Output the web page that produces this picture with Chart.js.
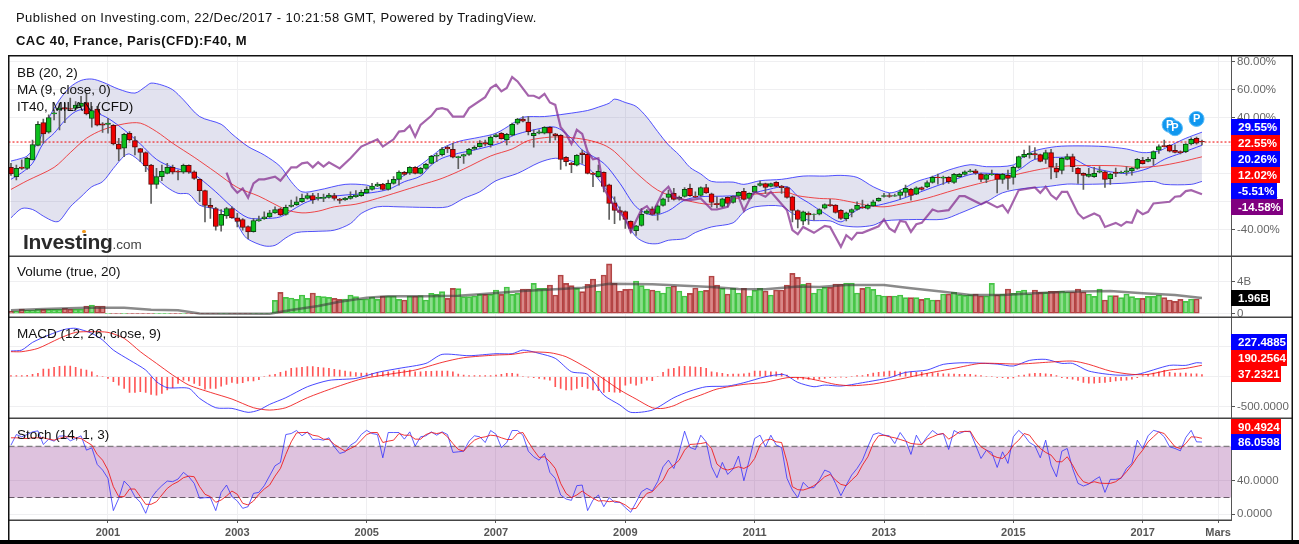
<!DOCTYPE html>
<html><head><meta charset="utf-8"><title>CAC 40</title>
<script src="https://cdn.jsdelivr.net/npm/chart.js@4"></script>
<style>
html,body{margin:0;padding:0;background:#fff;overflow:hidden}
#wrap{position:relative;width:1299px;height:544px;font-family:"Liberation Sans",Arial,sans-serif;color:#111}
canvas{position:absolute;left:0;top:0}
.t{position:absolute;white-space:nowrap;line-height:16px;font-size:13.5px}
.p{position:absolute;left:1231px;height:16px;line-height:16px;color:#fff;font-weight:bold;font-size:11.5px;padding-left:7px;box-sizing:border-box;white-space:nowrap}
</style></head><body><div id="wrap"><canvas id="c" width="1299" height="544"></canvas></div>
<script>
// Monthly candles, Jul 1999 to Dec 2017, in percent
const open=[4.5,-2.1,4.8,3.8,9.8,20.2,36.4,29.5,42.6,45.5,
47.1,46.4,46.4,47.9,50.7,39.3,46,35.5,35,34.5,
21,18.1,28.8,23.6,17.9,15,6.2,-7.6,-2.1,0.2,
4.5,1.9,1,6,1.4,-4,-12.1,-22.6,-24.8,-36.9,
-30,-24.8,-31.4,-32.6,-37.6,-41.2,-33.6,-32.1,-30.7,-27.9,
-25,-29,-23.3,-22.1,-20,-17.6,-15.5,-17.6,-17.6,-16.9,
-15.5,-18.1,-18.6,-17.6,-16.4,-15.7,-13.6,-11.2,-8.8,-7.4,
-11.2,-6.9,-4,1,0,4.5,0.2,3.8,7.4,12.4,
13.6,18.8,17.4,11.4,12.4,13.8,17.4,19.3,22.1,20.7,
26.4,28.8,24.3,27.4,36,38.8,36.7,27.1,28.8,28.8,
33.1,28.3,27.4,11.7,7.6,6,14.8,13.8,0.5,-2.1,
1,-7.9,-20.7,-26.2,-26.9,-34,-40.5,-36.9,-28.3,-25,
-28.3,-22.6,-16.9,-14,-18.1,-16.2,-10.5,-16,-15.5,-9.8,
-14.3,-21.2,-23.3,-16.9,-20.5,-16,-12.6,-17.6,-13.1,-8.3,
-7.1,-9,-6.2,-8.8,-9.8,-16.4,-26.2,-33.8,-28.3,-29,
-28.8,-24.5,-21.9,-22.4,-26,-32.1,-27.6,-25.5,-23.6,-24.8,
-22.9,-19.3,-16.2,-15.5,-16,-15.5,-13.3,-11.2,-14.5,-9.8,
-9.5,-6.2,-2.4,-3.1,-2.6,-6.2,-2.1,-0.5,1.4,2.1,
0,-4,-0.7,-0.5,-4,-1.2,-2.6,4.5,11.9,13.6,
14.3,13.6,10.2,15,3.8,2.4,10.2,12.1,3.8,0.2,
-1.9,-2.1,1,1.4,-3.6,1.2,0.5,1,1.9,3.8,
9.5,8.8,10.7,16.7,20,20.2,16.7,15.7,15.7,21.2,
25.2,23];
const close=[-0.2,3.8,3.8,11,20.7,35.2,28.3,40,43.3,46.7,
46,46,48.8,50.2,42.6,45,34.5,34.5,36,21.2,
17.4,28.1,24,18.8,15.2,5.7,-7.6,-2.1,1.7,4.5,
1,1,6,1,-3.3,-12.1,-22.6,-24,-37.6,-29,
-24.8,-31.4,-34,-38.3,-41.4,-33.3,-32.6,-30.7,-27.9,-25.5,
-29.3,-24,-22.4,-20,-17.6,-15.5,-18.6,-16.9,-16.9,-15.2,
-17.6,-19,-17.4,-16.2,-15.2,-13.3,-11.2,-8.8,-7.4,-11.2,
-6.9,-4,1.2,-0.5,4.5,0.2,3.8,6.7,12.4,13.1,
17.6,17.6,11.7,12.1,13.6,17.4,18.8,21.7,21,26,
27.6,25,28.1,35.2,38.8,37.4,30,28.8,29.8,33.1,
28.8,27.1,10.2,8.6,6.4,13.1,13.6,0.2,-0.5,1.7,
-9,-21.2,-26.2,-27.6,-32.6,-39,-37.1,-29,-26.4,-29,
-22.9,-17.9,-14.3,-18.3,-16.9,-11.2,-15.7,-16.7,-9.8,-13.6,
-20.5,-22.1,-17.9,-21.2,-16.2,-13.3,-18.3,-14,-9,-7.1,
-9.8,-7.1,-9,-10,-16.9,-26.2,-32.6,-27.1,-29.3,-28.8,
-25.5,-21.9,-22.9,-27.6,-31.9,-27.9,-25.5,-22.6,-24.3,-22.6,
-20,-17.6,-15.5,-16.2,-15.5,-12.9,-10.5,-15.5,-10,-11.2,
-6.4,-2.6,-2.9,-2.4,-5.7,-0.5,-0.5,1.4,2.1,0,
-4,-0.7,0,-4,-0.5,-3.3,4.5,12.1,13.8,14.5,
13.3,8.8,15,4.8,1,11,12.1,5,-0.2,-1.2,
-0.2,0.2,2.1,-4,0,0.2,0.9,2.1,3.8,10.2,
7.1,10.2,15.7,19.3,19.3,16,15.2,15,21,24.5,
21.7,22.55];
const high=[7.4,6.2,9.8,11.7,24,37.1,38.8,41.9,45.5,50.2,
50.2,53.8,51.4,55,57.4,47.9,47.9,36.4,39.5,35,
25.2,28.8,30,26.4,18.1,15.5,6.7,3.8,6.2,7.4,
6.2,2.6,6.9,6.4,2.1,-3.6,-11.7,-17.6,-24,-25.5,
-24,-23.6,-28.3,-31.9,-37.1,-31.9,-30.2,-27.1,-26,-23.6,
-24.5,-22.4,-18.8,-16.4,-14.5,-14,-14,-14,-14.5,-14,
-14,-17.6,-16.9,-12.9,-12.1,-11.7,-9.3,-6.9,-6.4,-6.9,
-4.5,-2.1,2.1,1.7,5,5,4.5,7.4,13.1,14.5,
18.8,19.8,21.7,12.6,14,18.1,19.8,23.6,24,26.9,
28.3,29.3,28.8,36,39.5,40.7,40.7,31.2,31.2,33.6,
33.6,28.8,27.9,12.1,8.1,13.6,16.9,14.5,1,6.2,
1.4,-7.4,-16.4,-23.6,-26.4,-33.6,-36.7,-24.8,-25.5,-23.6,
-22.1,-17.4,-11.7,-10.5,-16,-9.8,-7.4,-12.9,-9.3,-7.6,
-13.8,-16.4,-17.4,-16.4,-15.7,-12.9,-10.5,-13.6,-8.6,-5.2,
-6.7,-6.7,-5.7,-8.3,-9.3,-16,-25.7,-26.7,-27.1,-28.6,
-25,-21.4,-18.3,-21.9,-25.5,-27.4,-25,-20,-18.8,-21.7,
-18.8,-17.1,-14,-14,-14.5,-11.7,-8.1,-10.5,-9.3,-9.3,
-5,-1.7,-0.2,-1.7,-2.1,0.2,0.2,2.1,3.1,3.1,
0.5,-0.2,2.6,0,0.2,2.6,5.5,12.6,16.9,19.8,
18.6,14,16.9,17.4,7.4,11.7,14,14,4.3,0.7,
3.8,4.5,5,1.9,0.5,4,1.9,5,4.5,10.7,
11.7,11.7,16.2,20.5,24,20.7,20.5,16.2,21.4,25.5,
26,24];
const low=[-1.2,-4.5,3.1,3.1,9.8,19.8,21.7,28.8,38.3,31.2,
36.4,45,45.5,47.4,41.9,33.1,34,29.3,28.8,20.5,
9.3,12.1,23.6,13.3,8.6,1.4,-21.2,-10.5,-5,-0.2,
-0.2,-4.5,0.2,0.2,-4,-20,-34.3,-31.9,-40.2,-41,
-31.9,-31.9,-37.9,-40.2,-46.2,-41.7,-34,-32.6,-31.2,-28.3,
-29.8,-29.5,-23.8,-22.6,-20.5,-18.1,-21.2,-18.8,-20,-17.4,
-18.8,-21.2,-19,-18.1,-16.9,-16.2,-14,-11.7,-9.3,-11.7,
-11.7,-7.4,-8.1,-1.2,-0.5,-0.2,-0.2,3.1,6.9,8.6,
12.6,15,11.2,3.6,7.4,13.1,16.9,18.8,19.8,18.8,
26,24.5,20.5,26.9,35,36.9,27.6,18.8,28.3,28.3,
22.1,24,3.1,5.5,0.7,5.5,7.4,-0.2,-9.3,-2.6,
-12.9,-32.6,-35.5,-33.1,-39,-42.1,-44,-37.4,-28.8,-29.5,
-33.1,-23.1,-20,-18.8,-18.8,-16.7,-16.2,-17.1,-16,-14,
-23.6,-24.3,-24,-23.6,-21,-16.4,-18.8,-18.1,-13.6,-8.8,
-14,-9.5,-9.5,-14,-17.4,-34.3,-38.6,-36.4,-36.2,-33.1,
-29.3,-25,-23.3,-28.1,-32.6,-33.6,-30.7,-26,-24.8,-25.2,
-23.3,-19.8,-16.7,-16.9,-16.2,-18.3,-16.4,-18.8,-15,-11.7,
-10,-6.7,-7.4,-7.6,-6.9,-6.9,-2.6,-1,1,-0.5,
-5.7,-6.4,-1.2,-13.6,-6.9,-11.2,-7.4,4,11.4,11,
10.5,8.3,7.4,-3.8,-2.9,-0.2,9.8,1.4,-6.9,-11.2,
-2.4,-2.6,0.5,-9.8,-7.6,-2.1,0,-1,-1,3.3,
6.7,8.3,6.2,14.5,18.8,15.5,14.8,14,15,20.5,
21,20.5];

// Bollinger upper band: month index and percent
const bbUpperMonths=[0,2,3,5,7,9,11,13,15,17,20,23,25,26,28,30,32,35,39,41,44,47,50,52,54,57,62,66,68,71,74,76,78,80,83,87,90,93,95,99,103,107,109,111,112,114,116,118,120,122,124,126,128,130,134,136,139,143,147,151,154,157,160,163,165,168,171,174,178,181,186,188,190,194,198,203,207,210,213,215,218,221];
const bbUpper=[9,11,12.6,22.1,39.5,52.6,61.7,66.4,67.4,65.2,60.2,57.4,62.1,64.5,63.1,59.8,52.6,40.7,35.2,28.3,19.3,13.3,5,-5.7,-12.9,-11.7,-7.6,-8.1,-10.5,-5.7,1.4,6.2,12.1,18.1,22.9,26,28.8,35.5,40.2,40.7,42.6,45,47.4,50.2,53.1,50.7,47.9,40.2,30,20.5,13.3,4.5,-0.2,-5.5,-6,-7.6,-5,-4,-1.7,-1.7,-1.2,-2.6,-9.3,-13.6,-11.7,-5.7,-2.1,2.6,6.4,5,6.2,12.6,16.4,19.3,19.8,19.3,17.6,15,16.2,19.8,25.2,29.55];
// Bollinger lower band
const bbLowerMonths=[0,2,4,6,8,9,11,13,15,17,19,21,22,24,27,29,31,33,35,38,41,43,44,47,49,51,53,57,60,63,65,68,72,77,81,84,87,90,94,98,101,104,107,110,112,114,116,118,120,122,125,127,130,134,136,138,143,145,148,152,154,157,160,162,168,173,176,181,184,188,192,196,199,206,212,214,219,221];
const bbLower=[-31.4,-24.8,-25.5,-30.2,-34,-33.6,-23.6,-16.4,-9.3,-5.7,3.8,12.6,14,8.6,-3.3,-9.8,-14,-14.5,-22.4,-25.2,-30,-42.6,-46.7,-51.4,-51,-45.7,-41.9,-41,-40.2,-35.5,-28.3,-23.6,-23.6,-24,-23.6,-17.6,-12.9,-5,0.2,7.9,11,9,4.5,-8.8,-18.8,-33.1,-45,-49.3,-49.8,-47.4,-46.2,-41.9,-37.9,-35,-27.1,-23.6,-23.1,-28.3,-33.1,-33.6,-36.7,-37.9,-36.7,-33.6,-32.6,-32.4,-28.3,-20,-13.6,-10.5,-9.3,-7.4,-7.6,-6.9,-5.5,-7.6,-7.6,-5.51];
// Bollinger basis
const bbBasisMonths=[0,3,8,11,14,17,21,24,27,30,34,38,42,46,51,54,57,60,64,68,72,76,80,84,89,93,96,100,103,107,110,112,116,120,124,129,132,137,141,144,146,150,153,156,159,162,165,170,175,181,185,188,192,196,205,209,213,217,221];
const bbBasis=[-11.2,-5,4.5,15,25.2,31.2,35.5,36,30,21.7,11.7,1,-9.8,-16,-25.5,-27.9,-26.7,-23.6,-21.7,-17.6,-12.9,-8.1,-3.3,3.3,12.6,17.6,23.6,26,26,24,20.5,15.7,0.7,-11.7,-17.6,-21.7,-20.7,-15.2,-13.6,-13.3,-15.7,-17.6,-18.1,-20.2,-22.6,-23.6,-21.7,-17.4,-11.7,-5.7,-2.1,0.7,3.8,5.5,5.7,4.5,5.5,8.3,12.02];
// MA(9)
const ma9Months=[0,2,4,6,8,10,12,14,16,18,21,24,27,30,33,35,38,41,44,47,50,53,55,58,62,66,70,73,76,78,80,83,86,91,93,97,101,104,106,110,113,116,119,122,125,128,132,136,140,144,146,148,151,154,156,158,161,165,170,174,179,185,187,190,195,197,200,204,207,211,214,217,221];
const ma9=[-4,0.7,7.4,21.7,28.8,37.9,44.3,46,43.1,39.5,31.2,21.2,10.2,4.5,1.4,-3.3,-12.9,-23.6,-31.4,-31.9,-30.7,-24,-20,-16.9,-15.2,-14,-11.2,-5.7,-1.7,6.2,11,14.5,16.9,22.1,26.9,31.2,33.1,25.2,16.9,7.4,-6.9,-23.6,-29.5,-26.4,-18.8,-16.4,-16,-15.2,-11.7,-9.3,-16,-20.7,-28.3,-34.3,-28.3,-24,-22.4,-18.3,-11.2,-5.7,0.2,-0.2,2.6,10.2,11.7,11,5,1.4,0.2,3.8,10.2,14.5,20.26];
// IT40 comparison line
const it40Months=[40,41,42,43,44,45,46,47,49,50,52,53,54,55,56,57,58,59,61,63,65,68,69,71,72,73,74,75,76,78,79,80,81,82,84,85,88,89,90,91,92,93,94,96,97,98,99,100,101,102,103,104,105,106,107,108,109,110,112,114,115,117,118,119,121,122,123,125,126,128,130,131,133,134,135,136,137,138,140,141,144,145,146,147,149,151,152,154,155,156,157,158,161,162,163,164,165,166,167,168,169,171,172,174,176,177,180,181,183,184,185,187,190,191,192,193,194,195,196,198,199,201,202,203,205,206,207,208,209,210,211,212,215,216,217,218,219,221];
const it40=[0.7,-9.3,-13.6,-10.5,-17.1,-6.9,-4,-4,-2.1,-5,4.5,4.5,7.4,8.1,4.5,8.1,5,8.1,3.8,11,19.3,24.5,19.3,24.5,30,30.5,34.3,26.4,34.8,41.2,46,46.7,45.5,40.7,40.7,46.7,54.5,61,63.3,58.6,61,68.8,65.7,55.5,55.5,53.8,56.9,50.7,49,33.1,28.3,21.2,31.2,28.3,15.7,10.2,11,-10.5,-23.6,-31.9,-41.4,-25.5,-23.1,-28.3,-12.9,-9.3,-16.4,-18.8,-18.8,-17.6,-25.5,-25.5,-23.6,-16.4,-16.4,-26.4,-18.8,-12.9,-16.4,-12.9,-26,-40.2,-43.1,-37.9,-42.1,-37.1,-37.9,-52.1,-43.8,-46.9,-42.1,-42.1,-37.4,-32.6,-39,-41.4,-33.6,-34.3,-41.4,-36,-35,-25.5,-26.9,-26,-16,-16,-21.7,-20,-24,-22.4,-27.6,-11.7,-9.8,-13.6,-9.3,-15.2,-18.1,-12.9,-12.9,-28.3,-31.9,-28.3,-30.2,-37.9,-35,-37.1,-34.3,-35,-26,-28.8,-27.1,-21.2,-20,-16.4,-16,-12.4,-11.7,-14.58];
const lastPrice=22.55;
const pMarkerMonths=[215,216,220];
const pMarkerValues=[34.8,32.4,39];

// Volume in billions
const volume=[.33,.33,.58,.46,.46,.54,.54,.54,.54,.54,
.67,.58,.58,.58,.96,1.08,.96,.96,.03,.03,
.03,.03,.03,.03,.03,.03,.03,.03,.03,.03,
.03,.03,.03,.03,.03,.03,.03,.03,.03,.03,
.03,.03,.03,.03,.03,.03,.03,.03,.03,1.67,
2.67,2.04,1.96,1.79,2.33,1.92,2.58,2.21,2.13,2.04,
1.92,1.79,1.83,2.33,2.13,1.83,1.83,2.08,1.79,2.21,
2.21,2.21,1.79,1.71,2.21,2.21,2.25,1.71,2.54,2.42,
2.75,1.92,3.17,3.13,2.13,2.13,2.21,2.42,2.42,2.42,
2.96,2.42,3.33,2.42,2.54,3.08,3.08,3.79,3.17,3.17,
3.58,2.33,4.83,3.79,3.5,3.17,2.75,3.67,4.33,2.83,
4.83,6.21,3.79,2.83,3.04,3.08,4.08,3.5,3.08,2.96,
2.83,2.58,3.33,3.46,2.83,2.21,2.54,3.21,2.83,2.92,
4.71,3.58,3.17,2.46,3.17,2.58,3.17,2.21,2.92,3.17,
2.83,2.33,2.96,2.96,3.58,5.04,4.54,3.67,3.83,2.58,
3.08,3.29,3.29,3.71,3.71,3.83,3.83,2.58,3.17,3.33,
3.04,2.33,2.21,2.21,2.21,2.33,2,2,2,1.79,
1.92,1.71,1.71,2.46,2.46,2.67,2.38,2.29,2.38,2.46,
2.21,2.21,3.79,2.38,2.46,3.08,2.54,2.83,2.96,2.46,
2.96,2.67,2.67,2.79,2.79,2.83,2.71,2.71,3.08,2.71,
2.46,2.17,3.08,1.71,2.25,2.25,2,2.46,2.13,1.92,
1.92,2.17,2.17,2.33,2,1.71,1.54,1.79,1.54,1.83,
1.83];
const volMaMonths=[0,6,14,21,26,31,35,48,52,57,61,66,70,77,83,87,95,101,106,111,119,125,130,135,140,146,150,155,162,167,173,178,184,190,196,204,210,216,221];
const volMa=[.42,.58,.75,.75,.5,.42,.04,0,.46,.96,1.5,2,2.17,2.17,2.25,2.42,2.83,3.04,3.25,3.75,3.67,3.5,3.33,3.08,3.04,3.38,3.33,3.58,3.58,3.17,2.75,2.33,2.33,2.54,2.75,2.83,2.54,2.33,1.96];

// MACD
const macdMonths=[0,2,4,7,10,12,15,17,19,22,25,27,29,33,35,38,41,44,46,48,51,55,59,64,68,72,77,80,85,90,93,95,98,101,104,107,110,113,115,119,123,126,129,133,136,140,143,144,146,149,151,154,158,163,166,170,173,177,183,186,189,192,195,197,200,205,209,215,218,220,221];
const macd=[428,444,572,694,789,806,722,611,444,278,111,-83,-183,-194,-361,-517,-528,-594,-556,-461,-350,-167,-61,-28,72,139,222,372,350,383,383,444,389,306,83,39,-306,-472,-594,-556,-350,-239,-167,-156,-100,0,39,17,-94,-167,-139,-156,-100,-17,72,111,206,233,211,178,272,289,222,222,94,28,39,189,189,233,227.49];
const signalMonths=[0,2,5,9,12,15,18,21,24,27,30,33,37,41,45,48,51,55,60,65,70,75,80,84,90,93,96,100,103,107,110,113,116,119,121,123,125,128,131,136,140,144,147,150,153,156,160,165,170,175,180,187,192,197,200,204,208,211,215,218,221];
const signal=[417,417,472,639,739,750,739,639,417,222,28,-139,-261,-372,-517,-556,-517,-350,-183,-39,39,111,239,317,361,372,411,400,333,139,-39,-222,-372,-517,-528,-483,-400,-306,-206,-128,-94,-17,-17,-67,-128,-150,-122,-39,56,139,222,211,239,261,206,94,39,39,111,139,190.26];
const macdHist=[17,17,17,22,39,56,128,128,156,172,
178,178,156,128,111,83,17,0,-28,-83,
-139,-194,-261,-261,-250,-261,-294,-306,-278,-222,
-183,-111,-56,-72,-111,-150,-206,-194,-194,-156,
-128,-94,-111,-100,-72,-72,-50,0,28,39,
72,94,139,150,156,167,167,156,150,139,
122,111,94,83,67,61,61,56,72,83,
83,94,111,111,111,83,83,89,89,94,
94,94,83,44,28,17,17,17,17,17,
28,39,56,56,44,0,-6,-17,-28,-39,
-56,-167,-194,-222,-222,-194,-167,-194,-222,-233,
-261,-250,-256,-261,-139,-111,-139,-111,-56,-67,
0,72,128,139,167,172,167,161,156,139,
83,67,56,39,44,44,50,61,94,94,
94,83,83,56,28,-17,-39,-39,-44,-44,
-39,-28,-17,-11,-6,-11,0,17,17,39,
61,72,83,94,94,78,83,83,72,72,
56,61,61,50,50,44,39,39,39,28,
17,0,0,-11,-17,-28,-22,17,28,50,
56,56,50,39,17,-17,-28,-39,-61,-94,
-106,-106,-100,-94,-83,-72,-61,-56,-39,-17,
17,39,61,83,106,72,61,61,61,50,
50,37.23];

// Stochastic
const stochK=[82.4,95,92.3,95,98.2,99.4,83.2,89.5,87.1,93.1,
93.5,87.5,90.3,93.5,76.4,79.2,59.4,52.7,42.8,4.4,
19,39.6,32.9,21,14.3,1.2,19,27.7,34.1,39.6,
38.8,42,49.9,44.7,36.8,19,19.8,19.8,4.4,26.1,
34.8,21,15.8,7.1,9.1,24.9,26.1,34.1,45.9,57.8,
61.8,95,96.2,99.8,93.5,98.2,89.1,89.5,88.3,91.1,
80.4,72.5,74.4,82.4,86.3,95,100,96.2,95,67.3,
97.4,97.4,97.4,89.5,98.2,81.2,92.3,93.5,98.2,94.2,
98.2,95,73.7,74.4,75.2,87.1,93.5,92.3,85.5,99.8,
95.4,79.6,85.5,99.8,99.8,94.2,75.2,68.5,64.5,72.5,
49.9,42.8,23,18.2,16.6,34.1,34.8,4.4,17,23,
9.1,19.8,14.3,14.3,7.9,2.4,14.3,26.9,30.9,27.7,
38.8,56.6,64.5,54.6,74.4,99,79.6,77.2,94.2,86.3,
56.6,43.6,61.8,47.5,53.9,69.3,40,64.5,90.3,94.2,
80.4,94.2,82.4,79.6,42.8,28.9,19.8,38,31.7,31.7,
40.8,52.7,49.9,36.8,22.2,34.8,46.7,54.6,64.5,80.4,
95,97,94.2,93.5,84.3,97.4,88.3,71.3,94.2,83.2,
92.3,99.8,95,96.2,77.2,99.8,96.2,99,98.2,82.4,
66.5,76.4,73.7,55.8,74.4,60.6,92.3,100,94.2,85.5,
81.6,67.3,88.3,58.6,44.7,75.2,78.4,54.6,36.8,33.7,
36,40.8,44.7,26.1,41.6,41.6,42.8,54.6,60.6,88.3,
78.4,93.5,100,98.2,92.3,80.4,78.4,75.6,91.5,100,
86.3,86.06];
const stochD=[91.1,91.1,90.3,90.3,91.1,91.1,91.1,89.5,88.3,90.3,
92.3,92.3,91.1,90.3,86.3,82.4,71.3,64.5,52.7,32.9,
21,21,30.1,30.1,21,11.9,11.9,15,23,30.9,
35.6,38.8,43.6,45.5,44.7,32.9,23.8,21,14.3,17,
21.8,27.7,23.8,13.1,11.1,15.8,23.8,30.1,34.8,45.5,
54.6,71.3,86.3,97,97.4,97.4,94.2,93.1,89.5,89.1,
83.2,79.2,75.2,78.4,81.6,88.3,95,97.4,97.4,85.5,
87.1,88.3,96.2,94.2,94.2,89.5,89.5,95,97.4,96.2,
97.4,92.3,84.3,77.2,75.2,82.4,88.3,91.1,92.3,94.2,
93.5,91.1,89.1,89.1,96.2,97.4,86.3,76.4,67.7,68.5,
62.6,54.6,36.8,24.9,19.8,23,27.7,23,19,15.8,
16.2,15,15.8,14.3,11.1,6.3,7.1,17,24.9,26.9,
34.1,40.8,53.5,58.6,64.5,76.4,83.2,83.6,84.3,85.5,
78.4,59.8,54.6,52.7,54.6,56.6,54.6,57.8,66.5,82.4,
88.3,89.5,86.3,85.5,62.6,32.9,29.3,28.9,30.9,34.1,
38.8,44.7,47.5,40.8,35.6,34.1,40.8,46.7,58.6,68.5,
84.3,93.5,94.2,92.3,91.1,89.1,87.1,84.3,83.6,83.2,
89.5,92.3,95,96.2,89.5,93.5,98.2,98.6,99,88.3,
80.4,76.4,70.5,67.7,66.5,72.5,82.4,88.3,96.2,94.2,
85.5,78.4,73.7,70.5,62.6,62.6,68.5,58.6,46.7,38.8,
36.8,38.8,37.2,36.8,36.8,38.8,43.6,50.7,58.6,68.5,
76.4,86.3,92.3,98.2,96.2,88.3,80.4,78.4,84.3,92.3,
91.9,90.49];
const stochBand=[20,81];

// Axis ticks
const xTickMonths=[18,42,66,90,114,138,162,186,210,224];
const xTickLabels=['2001','2003','2005','2007','2009','2011','2013','2015','2017','Mars'];
const priceTicks=[80,60,40,20,0,-20,-40];
const volumeTicks=[0,4];
const macdTicks=[500,0,-500];
const stochTicks=[0,40,80];

const X_MIN=-0.46,X_MAX=226.39;
const pts=(m,v)=>m.map((x,i)=>({x,y:v[i]}));
const idx=a=>a.map((v,i)=>({x:i,y:v}));
const GREEN='#0cc01c',RED='#f00000',GREEN_B='#0b4a12',RED_B='#5a0d0d';
const isUp=i=>close[i]>=open[i];
const line=(id,data,color,w,extra)=>Object.assign({type:'line',yAxisID:id,xAxisID:'x',data,borderColor:color,borderWidth:w,pointRadius:0,pointHoverRadius:0,tension:0,fill:false},extra||{});
const bar=(id,data,thick,extra)=>Object.assign({type:'bar',yAxisID:id,xAxisID:'x',data,barThickness:thick,grouped:false,borderSkipped:false},extra||{});

const datasets=[
 line('yP',pts(bbUpperMonths,bbUpper),'rgba(40,40,255,.8)',1,{order:20,tension:.3,fill:{target:'+1'},backgroundColor:'rgba(60,60,150,.15)'}),
 line('yP',pts(bbLowerMonths,bbLower),'rgba(40,40,255,.8)',1,{order:20,tension:.3}),
 line('yP',pts(bbBasisMonths,bbBasis),'rgba(240,30,30,.8)',1,{order:12,tension:.3}),
 line('yP',pts(ma9Months,ma9),'rgba(40,40,255,.85)',1,{order:12,tension:.3}),
 line('yP',pts([X_MIN,X_MAX],[lastPrice,lastPrice]),'#f00000',1,{order:11,borderDash:[2,2]}),
 bar('yP',open.map((_,i)=>({x:i,y:[low[i],high[i]]})),1,{order:8,backgroundColor:'#5f5f5f',borderWidth:0}),
 bar('yP',open.map((v,i)=>({x:i,y:[v,close[i]]})),5,{order:7,backgroundColor:open.map((_,i)=>isUp(i)?GREEN:RED),borderColor:open.map((_,i)=>isUp(i)?GREEN_B:RED_B),borderWidth:1}),
 line('yP',pts(it40Months,it40),'rgba(130,40,140,.72)',2.2,{order:3}),
 line('yP',pts(pMarkerMonths,pMarkerValues),'rgba(0,0,0,0)',0,{order:1,showLine:false,pointRadius:7.5,pointBackgroundColor:'#1097ef',pointBorderColor:'#5cbcf7',pointBorderWidth:1}),

 bar('yV',idx(volume),5.4,{order:9,backgroundColor:volume.map((_,i)=>isUp(i)?'rgba(70,200,70,.62)':'rgba(190,50,50,.58)'),borderColor:volume.map((_,i)=>isUp(i)?'#45c445':'#b04a4a'),borderWidth:1}),
 line('yV',pts(volMaMonths,volMa),'rgba(60,60,60,.6)',2.5,{order:4}),

 bar('yM',idx(macdHist),1,{order:9,backgroundColor:'rgba(255,30,30,.75)',borderWidth:0}),
 line('yM',pts(macdMonths,macd),'rgba(40,40,255,.85)',1,{order:4,tension:.25}),
 line('yM',pts(signalMonths,signal),'rgba(240,20,20,.85)',1,{order:3,tension:.25}),

 line('yS',pts([X_MIN,X_MAX],[stochBand[1],stochBand[1]]),'#666',1,{order:15,borderDash:[6,3],fill:{value:stochBand[0]},backgroundColor:'rgba(128,20,128,.26)'}),
 line('yS',pts([X_MIN,X_MAX],[stochBand[0],stochBand[0]]),'#666',1,{order:15,borderDash:[6,3]}),
 line('yS',idx(stochK),'rgba(40,40,255,.75)',1,{order:4}),
 line('yS',idx(stochD),'rgba(240,20,20,.85)',1,{order:3}),
];

const GRID='#efeff1',AX='#555';
function yAxis(min,max,weight,order,ticks,fmt){
 return {type:'linear',position:'right',stack:'panes',stackWeight:weight,weight:order,min,max,
  afterBuildTicks:s=>{s.ticks=ticks.map(value=>({value}))},
  afterFit:s=>{s.width=61},
  border:{display:true,color:AX,width:1},
  grid:{color:GRID,tickColor:AX,tickLength:4,drawOnChartArea:true},
  ticks:{callback:fmt,color:'#666',font:{family:'"Liberation Sans"',size:11.5},padding:2,autoSkip:false,align:'center',crossAlign:'near'}};
}
const panePlugin={id:'panes',
 afterDraw(ch){
  const c=ch.ctx,a=ch.chartArea;c.save();
  c.fillStyle='#444';
  for(const k of ['yP','yV','yM']){const b=Math.round(ch.scales[k].bottom);c.fillRect(a.left,b-.5,1292-a.left,1.5)}
  c.fillRect(a.left,Math.round(a.bottom)-.5,a.right-a.left,1.5);
  c.fillStyle='#111';
  c.fillRect(a.left,Math.round(a.top)-1,1292-a.left+1,1.5);
  c.fillRect(a.left-.5,a.top-1,1.5,540-a.top+1);
  c.fillRect(1291.5,a.top-1,1.5,540-a.top+1);
  c.fillStyle='#000';c.fillRect(0,540,1299,4);
  c.restore();
 },
 afterDatasetsDraw(ch){
  const c=ch.ctx;c.save();c.fillStyle='#fff';c.font='bold 11px "Liberation Sans"';c.textAlign='center';c.textBaseline='middle';
  pMarkerMonths.forEach((m,i)=>c.fillText('P',ch.scales.x.getPixelForValue(m),ch.scales.yP.getPixelForValue(pMarkerValues[i])));
  c.restore();
 }
};
new Chart(document.getElementById('c'),{type:'line',data:{datasets},plugins:[panePlugin],
 options:{responsive:false,animation:false,devicePixelRatio:1,events:[],parsing:{xAxisKey:'x',yAxisKey:'y'},
  layout:{padding:{left:6,right:7,top:56,bottom:4}},
  plugins:{legend:{display:false},title:{display:false},tooltip:{enabled:false}},
  scales:{
   x:{type:'linear',position:'bottom',min:X_MIN,max:X_MAX,offset:false,
    afterBuildTicks:s=>{s.ticks=xTickMonths.map(value=>({value}))},
    afterFit:s=>{s.height=20;s.paddingLeft=0;s.paddingRight=0},
    grid:{color:GRID,offset:false,tickLength:3,tickColor:AX},
    border:{display:false},
    ticks:{callback:v=>xTickLabels[xTickMonths.indexOf(v)],autoSkip:false,maxRotation:0,color:'#555',padding:3,font:{family:'"Liberation Sans"',size:11,weight:'bold'}}},
   yP:yAxis(-58.6,83.8,200,0,priceTicks,v=>v.toFixed(2)+'%'),
   yV:yAxis(-.41,7.2,61,1,volumeTicks,v=>v===0?'0':v+'B'),
   yM:yAxis(-688,995,101,2,macdTicks,v=>v.toFixed(4)),
   yS:yAxis(-6.8,114.7,102,3,stochTicks,v=>v.toFixed(4)),
  }}});

const wrap=document.getElementById('wrap');
function txt(s,x,y,css){const d=document.createElement('div');d.className='t';d.textContent=s;d.style.left=x+'px';d.style.top=(y-8)+'px';if(css)d.style.cssText+=css;wrap.appendChild(d);return d}
txt('Published on Investing.com, 22/Dec/2017 - 10:21:58 GMT, Powered by TradingView.',16,17.5,'font-size:13px;letter-spacing:.43px');
txt('CAC 40, France, Paris(CFD):F40, M',16,40.5,'font-size:13px;font-weight:bold;letter-spacing:.48px');
txt('BB (20, 2)',17,72.5);txt('MA (9, close, 0)',17,89.5);txt('IT40, MILAN (CFD)',17,106.5);
txt('Volume (true, 20)',17,272);txt('MACD (12, 26, close, 9)',17,334);txt('Stoch (14, 1, 3)',17,435);
const logo=document.createElement('div');logo.className='t';logo.style.cssText+='left:23px;top:230px;height:20px;line-height:20px;color:#2a2a2a';
logo.innerHTML='<span style="font:bold 21px \'Liberation Sans\';letter-spacing:-.3px">Investing</span><span style="font-size:13.5px;color:#444">.com</span>';
wrap.appendChild(logo);
const dot=document.createElement('div');dot.style.cssText='position:absolute;left:82px;top:229.5px;width:3.5px;height:3.5px;border-radius:2px;background:#f39a1e';wrap.appendChild(dot);

const priceLabels=['29.55%','22.55%','20.26%','12.02%','-5.51%','-14.58%','1.96B','227.4885','190.2564','37.2321','90.4924','86.0598'];
const labelColors=['#0000ff','#ff0000','#0000ff','#ff0000','#0000ff','#800080','#000','#0000ff','#ff0000','#ff0000','#ff0000','#0000ff'];
const labelTops=[119,135,151,167,183,199,290,334,350,366,418.5,434];
const labelWidths=[49,49,49,49,46,52,39,56,56,50,50,50];
priceLabels.forEach((s,i)=>{const d=document.createElement('div');d.className='p';d.textContent=s;d.style.top=labelTops[i]+'px';d.style.width=labelWidths[i]+'px';d.style.background=labelColors[i];wrap.appendChild(d)});
</script></body></html>
